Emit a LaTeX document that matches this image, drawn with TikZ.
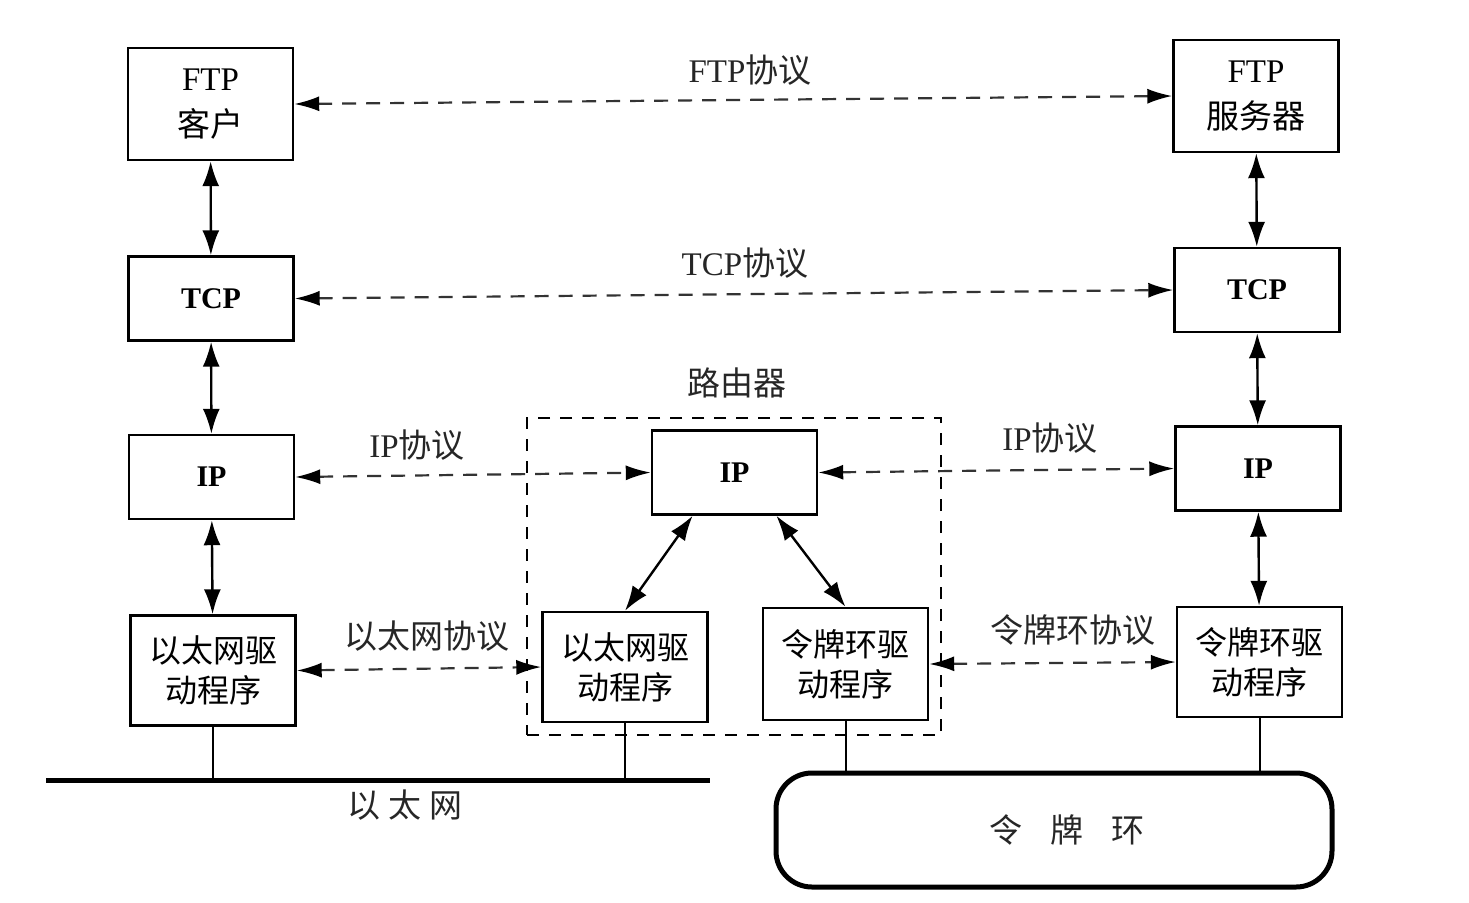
\documentclass[tikz,border=0pt]{standalone}
\usepackage{fontspec}
\setmainfont{Liberation Serif}
\newfontfamily\cjk{Noto Sans CJK SC}
\usetikzlibrary{arrows.meta,calc}
\begin{document}
\begin{tikzpicture}[x=0.5pt,y=-0.5pt,
  box/.style={draw, line width=1.2pt, minimum width=82.5pt, minimum height=42pt,
    align=center, inner sep=0pt, font=\fontsize{16.5}{23}\selectfont},
  tall/.style={minimum height=56pt},
  bold/.style={box, font=\fontsize{15}{18}\selectfont\bfseries},
  drv/.style={box, minimum height=55pt, font=\cjk\fontsize{16}{20}\selectfont},
  lab/.style={inner sep=0pt, text=black!85, font=\fontsize{16.5}{20}\selectfont},
  link/.style={line width=1.2pt, {Latex[length=12.5pt,width=8.5pt]}-{Latex[length=12.5pt,width=8.5pt]}},
  proto/.style={draw=black!80, line width=1.1pt, dash pattern=on 7pt off 5pt,
    {Latex[length=12.5pt,width=7.5pt,fill=black,color=black]}-{Latex[length=12.5pt,width=7.5pt,fill=black,color=black]}},
  wire/.style={line width=1pt}
]
\useasboundingbox (0,0) rectangle (1469,902);

% left host
\node[box,tall] (ftpc) at (210.5,104) {FTP\\\cjk 客户};
\node[bold] (tcpl) at (211,298.5) {TCP};
\node[bold] (ipl) at (211.5,477) {IP};
\node[drv] (ethl) at (213,670.5) {以太网驱\\动程序};

% router
\node[draw, line width=1.1pt, dash pattern=on 6pt off 5pt, minimum width=207pt,
  minimum height=158.5pt, inner sep=0pt] (rbox) at (734,576.5) {};
\node[lab] (lrouter) at (737,383) {\cjk 路由器};
\node[bold] (rip) at (734.5,472.5) {IP};
\node[drv] (reth) at (625,667) {以太网驱\\动程序};
\node[drv, minimum height=56pt] (rtr) at (845.5,664) {令牌环驱\\动程序};

% right host
\node[box,tall] (ftps) at (1256,96) {FTP\\\cjk 服务器};
\node[bold] (tcpr) at (1257,290) {TCP};
\node[bold] (ipr) at (1258,468.5) {IP};
\node[drv] (trr) at (1259.5,662) {令牌环驱\\动程序};

% networks
\coordinate (ethA) at (46,780);
\coordinate (ethB) at (710,780);
\draw[line width=2.5pt] (ethA) -- (ethB);
\node[lab] (lethnet) at (405,805) {\cjk 以\hspace{4pt}太\hspace{4pt}网};
\node[draw, line width=2.5pt, rounded corners=18pt, minimum width=278pt,
  minimum height=57pt, inner sep=0pt] (ring) at (1054,830) {};
\node[lab] (ringtxt) at (1067,830) {\cjk 令\hspace{14pt}牌\hspace{14pt}环};

\draw[wire] (ethl.south) -- (ethl.south |- ethA);
\draw[wire] (reth.south) -- (reth.south |- ethA);
\draw[wire] (rtr.south) -- (rtr.south |- ring.north);
\draw[wire] (trr.south) -- (trr.south |- ring.north);

% vertical stack links
\draw[link] (ftpc) -- (tcpl);
\draw[link] (tcpl) -- (ipl);
\draw[link] (ipl) -- (ethl);
\draw[link] (ftps) -- (tcpr);
\draw[link] (tcpr) -- (ipr);
\draw[link] (ipr) -- (trr);
\draw[link] ($(rip.south west)!0.25!(rip.south east)$) -- (reth.north);
\draw[link] ($(rip.south west)!0.75!(rip.south east)$) -- (rtr.north);

% protocol links
\draw[proto] (ftpc.east) -- (ftps.west);
\draw[proto] (tcpl.east) -- (tcpr.west);
\draw[proto] (ipl.east) -- (rip.west);
\draw[proto] (rip.east) -- (ipr.west);
\draw[proto] (ethl.east) -- (reth.west);
\draw[proto] (rtr.east) -- (trr.west);

% protocol labels
\node[lab] (lftp) at (750,70) {FTP\cjk 协议};
\node[lab] (ltcp) at (745,263) {TCP\cjk 协议};
\node[lab] (lipl) at (417,445) {IP\cjk 协议};
\node[lab] (lipr) at (1050,438) {IP\cjk 协议};
\node[lab] (leth) at (427,636) {\cjk 以太网协议};
\node[lab] (ltr) at (1073,630) {\cjk 令牌环协议};
\end{tikzpicture}
\end{document}
